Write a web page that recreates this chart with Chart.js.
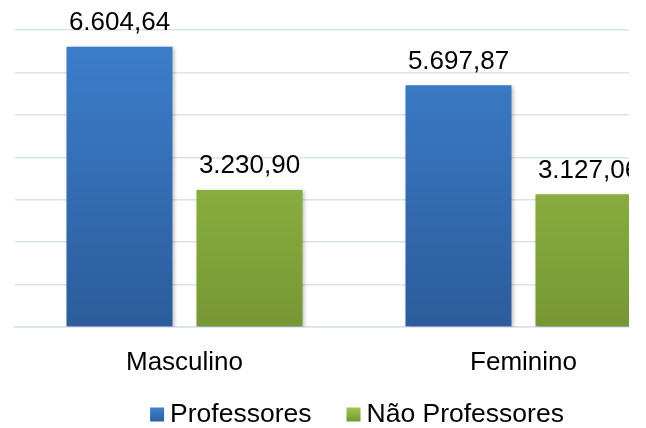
<!DOCTYPE html>
<html>
<head>
<meta charset="utf-8">
<script src="https://cdn.jsdelivr.net/npm/chart.js@4.4.1/dist/chart.umd.min.js"></script>
<style>
  html, body { margin: 0; padding: 0; background: #fff; }
  #clip { position: absolute; left: 0; top: 0; width: 629px; height: 428px; overflow: hidden; }
  #box { position: absolute; left: 0; top: 0; width: 700px; height: 428px; }
</style>
</head>
<body>
<div id="clip"><div id="box"><canvas id="c"></canvas></div></div>
<script>
const categories = ["Masculino", "Feminino"];
const seriesNames = ["Professores", "Não Professores"];
const professores = [6604.64, 5697.87];
const naoProfessores = [3230.90, 3127.06];
const yTicks = [0, 1000, 2000, 3000, 4000, 5000, 6000, 7000];

const FONT = "'Liberation Sans', Arial, sans-serif";
const gradStops = [
  ["#3d7fcd", "#2c5c9b"],
  ["#9fc64c", "#769734"]
];
const legendBox = [
  ["#3f80cf", "#2d5f9f"],
  ["#9fc64c", "#769734"]
];

function makeGrad(ctx, chart, idx) {
  const area = chart.chartArea;
  if (!area) return gradStops[idx][0];
  const y = chart.scales.y;
  const top = y.getPixelForValue(7000);
  const g = ctx.createLinearGradient(0, top, 0, area.bottom);
  g.addColorStop(0, gradStops[idx][0]);
  g.addColorStop(1, gradStops[idx][1]);
  return g;
}

const fmt = v => v.toLocaleString('pt-BR', { minimumFractionDigits: 2, maximumFractionDigits: 2 });

const shadowPlugin = {
  id: 'shadow',
  beforeDatasetsDraw(chart) {
    const ctx = chart.ctx;
    ctx.save();
    ctx.shadowColor = 'rgba(0,0,0,0.28)';
    ctx.shadowBlur = 4;
    ctx.shadowOffsetX = 1.5;
    ctx.shadowOffsetY = 1.5;
  },
  afterDatasetsDraw(chart) {
    chart.ctx.restore();
    const ctx = chart.ctx;
    ctx.save();
    ctx.font = "26px " + FONT;
    ctx.fillStyle = '#000';
    ctx.textAlign = 'center';
    ctx.textBaseline = 'alphabetic';
    chart.data.datasets.forEach((ds, di) => {
      const meta = chart.getDatasetMeta(di);
      meta.data.forEach((bar, i) => {
        ctx.fillText(fmt(ds.data[i]), bar.x, bar.y - 16.5);
      });
    });
    ctx.restore();
  }
};

const legendPlugin = {
  id: 'customLegend',
  afterDraw(chart) {
    const ctx = chart.ctx;
    ctx.save();
    ctx.font = "26.5px " + FONT;
    ctx.textBaseline = 'alphabetic';
    const box = 14, gapText = 6, gapItem = 35;
    const widths = seriesNames.map(n => ctx.measureText(n).width);
    let total = 0;
    widths.forEach((w, i) => { total += box + gapText + w + (i < widths.length - 1 ? gapItem : 0); });
    const area = chart.chartArea;
    let x = (area.left + area.right) / 2 - total / 2 + 3;
    const baseline = 421.5;
    seriesNames.forEach((n, i) => {
      const g = ctx.createLinearGradient(0, baseline - 14, 0, baseline);
      g.addColorStop(0, legendBox[i][0]);
      g.addColorStop(1, legendBox[i][1]);
      ctx.fillStyle = g;
      ctx.fillRect(x, baseline - 14, box, box);
      ctx.fillStyle = '#000';
      ctx.fillText(n, x + box + gapText, baseline);
      x += box + gapText + widths[i] + gapItem;
    });
    ctx.restore();
  }
};

new Chart(document.getElementById('c'), {
  type: 'bar',
  data: {
    labels: categories,
    datasets: [
      { label: seriesNames[0], data: professores,
        backgroundColor: c => makeGrad(c.chart.ctx, c.chart, 0),
        barPercentage: 0.815, categoryPercentage: 0.767 },
      { label: seriesNames[1], data: naoProfessores,
        backgroundColor: c => makeGrad(c.chart.ctx, c.chart, 1),
        barPercentage: 0.815, categoryPercentage: 0.767 }
    ]
  },
  options: {
    responsive: true,
    maintainAspectRatio: false,
    animation: false,
    layout: { padding: { left: 15, right: 7, top: 30, bottom: 0 } },
    plugins: { legend: { display: false }, tooltip: { enabled: false } },
    scales: {
      x: {
        grid: { display: false },
        border: { display: true, color: '#d3e0ef', width: 1.5 },
        ticks: { color: '#000', font: { family: FONT, size: 26 }, padding: 12 },
        afterFit: s => { s.height = 101; }
      },
      y: {
        min: 0, max: 7000,
        afterBuildTicks: s => { s.ticks = yTicks.map(v => ({ value: v })); },
        ticks: { display: false },
        grid: { color: '#d9e4f1', lineWidth: 1.5, drawTicks: false },
        border: { display: false },
        afterFit: s => { s.width = 0; }
      }
    }
  },
  plugins: [shadowPlugin, legendPlugin]
});
</script>
</body>
</html>
